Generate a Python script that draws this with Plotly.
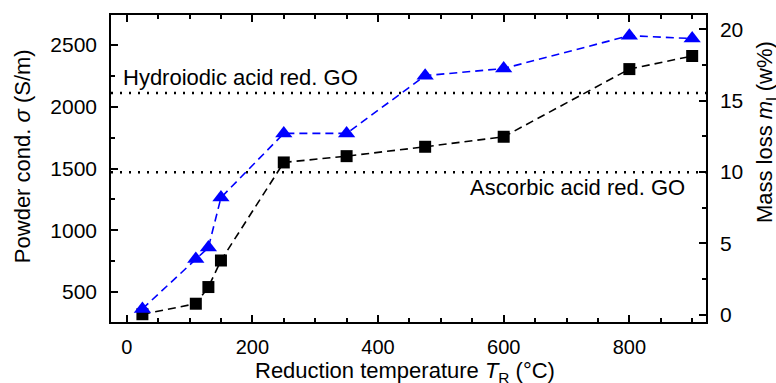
import plotly.graph_objects as go

temperature = [25, 110, 130, 150, 250, 350, 475, 600, 800, 900]
conductivity = [320, 405, 540, 755, 1549, 1600, 1676, 1757, 2305, 2411]
mass_loss = [0.4, 3.9, 4.7, 8.2, 12.7, 12.7, 16.75, 17.25, 19.55, 19.35]
hi_ref = 2111
aa_ref = 1470
x_ticks = [0, 200, 400, 600, 800]
y_ticks = [500, 1000, 1500, 2000, 2500]
y2_ticks = [0, 5, 10, 15, 20]

FONT = "Liberation Sans, Arial, sans-serif"
fig = go.Figure()

fig.add_trace(go.Scatter(x=[-25, 922], y=[hi_ref, hi_ref], mode="lines",
                         line=dict(color="black", width=2.5, dash="2px,7px"), showlegend=False))
fig.add_trace(go.Scatter(x=[-25, 922], y=[aa_ref, aa_ref], mode="lines",
                         line=dict(color="black", width=2.5, dash="2px,7px"), showlegend=False))

fig.add_trace(go.Scatter(x=temperature, y=conductivity, mode="lines+markers",
                         line=dict(color="black", width=1.6, dash="8px,5px"),
                         marker=dict(symbol="square", size=12, color="black"),
                         showlegend=False))
fig.add_trace(go.Scatter(x=temperature, y=mass_loss, mode="lines+markers", yaxis="y2",
                         line=dict(color="#0000ff", width=1.6, dash="8px,5px"),
                         marker=dict(symbol="triangle-up", size=15, color="#0000ff"),
                         showlegend=False))

axis_common = dict(showline=True, linecolor="black", linewidth=1.5, ticks="inside",
                   tickcolor="black", tickwidth=1.5, showgrid=False, zeroline=False)

fig.update_layout(
    width=776, height=383,
    margin=dict(l=111, r=70, t=15, b=61),
    plot_bgcolor="white", paper_bgcolor="white",
    xaxis=dict(range=[-25, 922], tickvals=x_ticks, ticklen=7, mirror="ticks",
               minor=dict(ticks="inside", dtick=50, tick0=0, ticklen=4, tickcolor="black", tickwidth=1.5),
               ticklabelstandoff=6, tickfont=dict(family=FONT, size=20, color="black"), **axis_common),
    yaxis=dict(range=[257, 2743], tickvals=y_ticks, ticklen=7,
               minor=dict(ticks="inside", dtick=250, tick0=0, ticklen=4, tickcolor="black", tickwidth=1.5),
               ticklabelstandoff=8, tickfont=dict(family=FONT, size=21, color="black"), **axis_common),
    yaxis2=dict(range=[-0.52, 21.0], tickvals=y2_ticks, ticklen=7, overlaying="y", side="right",
                minor=dict(ticks="inside", dtick=2.5, tick0=0, ticklen=4, tickcolor="black", tickwidth=1.5),
                ticklabelstandoff=8, tickfont=dict(family=FONT, size=21, color="black"), **axis_common),
    font=dict(family=FONT, size=20, color="black"),
)

fig.add_annotation(text="Hydroiodic acid red. GO", xref="x", yref="y", x=-9, y=hi_ref,
                   xanchor="left", yanchor="middle", yshift=16, showarrow=False,
                   font=dict(family=FONT, size=22, color="black"))
fig.add_annotation(text="Ascorbic acid red. GO", xref="x", yref="y", x=891, y=aa_ref,
                   xanchor="right", yanchor="middle", yshift=-15, showarrow=False,
                   font=dict(family=FONT, size=22, color="black"))

fig.add_annotation(text="Powder cond. <i>σ</i> (S/m)", xref="paper", yref="paper",
                   x=-0.1497, y=0.54, xanchor="center", yanchor="middle", textangle=-90,
                   showarrow=False, font=dict(family=FONT, size=22, color="black"))
fig.add_annotation(text="Mass loss <i>m</i><sub>l</sub> (w%)", xref="paper", yref="paper",
                   x=1.101, y=0.619, xanchor="center", yanchor="middle", textangle=-90,
                   showarrow=False, font=dict(family=FONT, size=22, color="black"))
fig.add_annotation(text="Reduction temperature <i>T</i><sub>R</sub> (°C)", xref="paper", yref="paper",
                   x=0.494, y=-0.164, xanchor="center", yanchor="middle",
                   showarrow=False, font=dict(family=FONT, size=22, color="black"))

fig.write_html("out.html", config={"displayModeBar": False},
               post_script="document.body.style.margin='0';")
